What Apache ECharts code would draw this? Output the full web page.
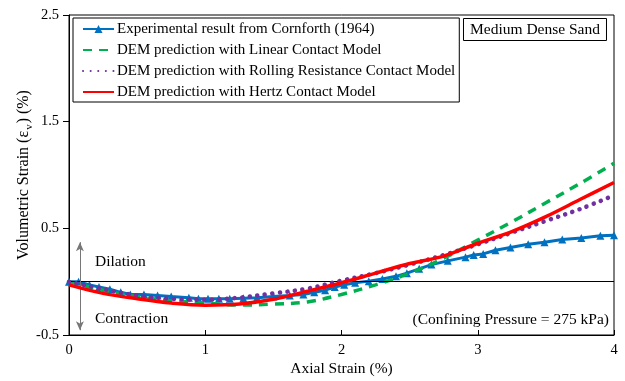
<!DOCTYPE html>
<html>
<head>
<meta charset="utf-8">
<script src="https://cdn.jsdelivr.net/npm/echarts@6/dist/echarts.min.js"></script>
<style>
  html, body { margin: 0; padding: 0; background: #fff; }
  #chart { width: 625px; height: 381px; }
</style>
</head>
<body>
<div id="chart"></div>
<script>
// Axial strain (%) at which the DEM curves are sampled
const axialStrain = [0, 0.25, 0.5, 0.75, 1.0, 1.25, 1.5, 1.75, 2.0, 2.25, 2.5, 2.75, 3.0, 3.25, 3.5, 3.75, 4.0];
// Volumetric strain (%) of the three DEM contact models
const linearModel  = [0, -0.08, -0.14, -0.18, -0.20, -0.22, -0.21, -0.19, -0.12, -0.03, 0.08, 0.22, 0.39, 0.56, 0.74, 0.92, 1.11];
const rollingModel = [0, -0.07, -0.13, -0.16, -0.17, -0.15, -0.11, -0.065, 0.01, 0.08, 0.16, 0.25, 0.35, 0.46, 0.57, 0.68, 0.81];
const hertzModel   = [-0.03, -0.11, -0.16, -0.20, -0.22, -0.21, -0.165, -0.09, -0.01, 0.08, 0.17, 0.24, 0.36, 0.47, 0.61, 0.77, 0.93];

// Laboratory test points (Cornforth, 1964)
const expStrain = [0.0, 0.07, 0.15, 0.22, 0.30, 0.38, 0.45, 0.55, 0.65, 0.75, 0.88, 0.95, 1.02, 1.10, 1.18, 1.28, 1.38,
  1.50, 1.62, 1.72, 1.80, 1.88, 1.95, 2.02, 2.10, 2.20, 2.30, 2.40, 2.48, 2.57, 2.66, 2.78, 2.91, 2.97, 3.04, 3.13,
  3.24, 3.37, 3.49, 3.62, 3.76, 3.90, 4.00];
const expVolumetric = [0.0, 0.0, -0.03, -0.05, -0.07, -0.10, -0.12, -0.12, -0.13, -0.14, -0.15, -0.16, -0.16, -0.16, -0.16, -0.155, -0.15,
  -0.14, -0.13, -0.12, -0.10, -0.08, -0.05, -0.03, -0.01, 0.005, 0.025, 0.05, 0.08, 0.12, 0.16, 0.195, 0.23, 0.25, 0.26, 0.295,
  0.32, 0.35, 0.37, 0.395, 0.41, 0.43, 0.435];

const seriesNames = [
  'Experimental result from Cornforth (1964)',
  'DEM prediction with Linear Contact Model',
  'DEM prediction with Rolling Resistance Contact Model',
  'DEM prediction with Hertz Contact Model'
];
const xTicks = [0, 1, 2, 3, 4];
const yTicks = [-0.5, 0.5, 1.5, 2.5];

const pairs = (xs, ys) => xs.map((x, i) => [x, ys[i]]);
const SERIF = "'Liberation Serif', 'Times New Roman', serif";
const FS = 15.5;

const chart = echarts.init(document.getElementById('chart'), null, { renderer: 'canvas' });

chart.setOption({
  animation: false,
  backgroundColor: '#fff',
  textStyle: { fontFamily: SERIF, color: '#000' },
  grid: {
    left: 69, right: 11, top: 15, bottom: 46,
    outerBoundsMode: 'none',
    containLabel: false,
    show: true, borderColor: '#000', borderWidth: 1, backgroundColor: 'transparent'
  },
  title: {
    text: 'Medium Dense Sand',
    right: 18, top: 18,
    padding: [4, 7, 3, 7],
    borderColor: '#000', borderWidth: 1,
    textStyle: { fontFamily: SERIF, fontSize: FS, fontWeight: 'normal', color: '#000' }
  },
  legend: {
    orient: 'vertical',
    left: 73, top: 18,
    padding: [3, 4, 2, 9],
    itemGap: 5,
    itemWidth: 31, itemHeight: 10,
    borderColor: '#000', borderWidth: 1,
    backgroundColor: '#fff',
    textStyle: { fontFamily: SERIF, fontSize: 15, lineHeight: 16, color: '#000', padding: [0, 0, 0, -2] },
    // only the experimental entry carries a marker; the model entries show the bare line
    data: [
      { name: seriesNames[0] },
      { name: seriesNames[1], itemStyle: { opacity: 0 } },
      { name: seriesNames[2], itemStyle: { opacity: 0 } },
      { name: seriesNames[3], itemStyle: { opacity: 0 } }
    ]
  },
  xAxis: {
    type: 'value',
    min: 0, max: 4, interval: 1,
    name: 'Axial Strain (%)',
    nameLocation: 'middle', nameGap: 26,
    nameMoveOverlap: false,
    nameTextStyle: { fontFamily: SERIF, fontSize: FS, color: '#000' },
    axisLine: { show: true, onZero: false, lineStyle: { color: '#000', width: 1 } },
    axisTick: { show: true, inside: true, length: 5, customValues: xTicks, lineStyle: { color: '#000' } },
    axisLabel: { customValues: xTicks, fontFamily: SERIF, fontSize: 14.5, color: '#000', margin: 8 },
    splitLine: { show: false }
  },
  yAxis: {
    type: 'value',
    min: -0.5, max: 2.5,
    name: '{t|Volumetric Strain (ε}{s|v}{t|) (%)}',
    nameLocation: 'middle', nameGap: 37,
    nameMoveOverlap: false,
    nameTextStyle: {
      fontFamily: SERIF, fontSize: FS, color: '#000',
      rich: {
        t: { fontFamily: SERIF, fontSize: 16, color: '#000', lineHeight: 19, verticalAlign: 'bottom' },
        s: { fontFamily: SERIF, fontSize: 11, color: '#000', lineHeight: 19, verticalAlign: 'bottom', padding: [0, 1, -3, 1] }
      }
    },
    axisLine: { show: true, onZero: false, lineStyle: { color: '#000', width: 1 } },
    axisTick: { show: true, inside: false, length: 6, customValues: yTicks, lineStyle: { color: '#000' } },
    axisLabel: { customValues: yTicks, fontFamily: SERIF, fontSize: 14.5, color: '#000', margin: 10 },
    splitLine: { show: false }
  },
  graphic: [
    {
      type: 'text', left: 95, top: 254,
      style: { text: 'Dilation', fontFamily: SERIF, fontSize: FS, fill: '#000' }
    },
    {
      type: 'text', left: 95, top: 311,
      style: { text: 'Contraction', fontFamily: SERIF, fontSize: FS, fill: '#000' }
    },
    {
      type: 'text', right: 16, top: 312,
      style: { text: '(Confining Pressure = 275 kPa)', fontFamily: SERIF, fontSize: FS, fill: '#000' }
    }
  ],
  series: [
    {
      name: seriesNames[0],
      type: 'line',
      data: pairs(expStrain, expVolumetric),
      symbol: 'triangle', symbolSize: 8,
      itemStyle: { color: '#0070C0' },
      lineStyle: { color: '#0070C0', width: 3 },
      z: 3,
      // zero line and the dilation / contraction arrow
      markLine: {
        silent: true,
        animation: false,
        label: { show: false },
        data: [
          [
            { coord: [0, 0], symbol: 'none', lineStyle: { color: '#000', width: 1, type: 'solid' } },
            { coord: [4, 0], symbol: 'none' }
          ],
          [
            { coord: [0.08, 0.37], symbol: 'arrow', symbolSize: [6, 9], itemStyle: { color: '#000' }, lineStyle: { color: '#777', width: 1, type: 'solid' } },
            { coord: [0.08, -0.455], symbol: 'arrow', symbolSize: [6, 9], itemStyle: { color: '#000' } }
          ]
        ]
      }
    },
    {
      name: seriesNames[1],
      type: 'line',
      data: pairs(axialStrain, linearModel),
      smooth: 0.35,
      symbol: 'none',
      itemStyle: { color: '#00B050' },
      lineStyle: { color: '#00B050', width: 3.5, type: [9, 7] },
      z: 4
    },
    {
      name: seriesNames[2],
      type: 'line',
      data: pairs(axialStrain, rollingModel),
      smooth: 0.35,
      symbol: 'none',
      itemStyle: { color: '#7030A0' },
      lineStyle: { color: '#7030A0', width: 4.5, type: [0.1, 7.5], cap: 'round' },
      z: 5
    },
    {
      name: seriesNames[3],
      type: 'line',
      data: pairs(axialStrain, hertzModel),
      smooth: 0.35,
      symbol: 'none',
      itemStyle: { color: '#FF0000' },
      lineStyle: { color: '#FF0000', width: 3.5 },
      z: 6
    }
  ]
});
</script>
</body>
</html>
